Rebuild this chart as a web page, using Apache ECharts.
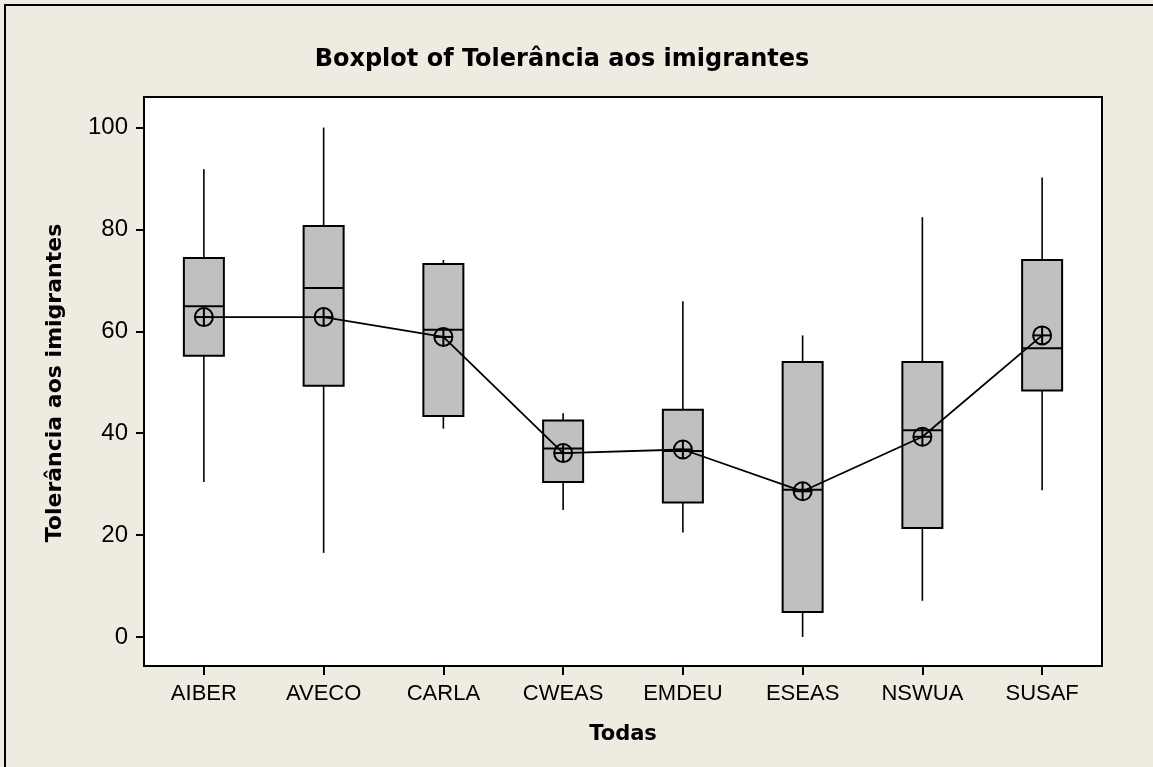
<!DOCTYPE html>
<html>
<head>
<meta charset="utf-8">
<title>Boxplot of Tolerância aos imigrantes</title>
<script src="https://cdn.jsdelivr.net/npm/echarts@6/dist/echarts.min.js"></script>
<style>
  html, body { margin: 0; padding: 0; background: #EFEBE1; }
  #chart { width: 1153px; height: 767px; }
</style>
</head>
<body>
<div id="chart"></div>
<script>
// Regions (x categories)
const categories = ['AIBER', 'AVECO', 'CARLA', 'CWEAS', 'EMDEU', 'ESEAS', 'NSWUA', 'SUSAF'];

// Five-number summaries per region
const whiskerLow  = [30.4, 16.5, 40.9, 24.9, 20.5,  0.0,  7.1, 28.8];
const q1          = [55.2, 49.3, 43.4, 30.4, 26.4,  4.9, 21.4, 48.4];
const median      = [64.9, 68.5, 60.3, 37.0, 36.5, 28.9, 40.6, 56.7];
const q3          = [74.4, 80.7, 73.2, 42.5, 44.6, 54.0, 54.0, 74.0];
const whiskerHigh = [91.8, 100.0, 74.0, 43.9, 65.9, 59.2, 82.4, 90.2];

// Group means (connected by a line)
const means = [62.8, 62.8, 58.9, 36.1, 36.8, 28.6, 39.3, 59.2];

// Y axis tick values
const yTicks = [0, 20, 40, 60, 80, 100];

const FONT = '"Liberation Sans", Arial, sans-serif';
const BOLD_FONT = '"DejaVu Sans", Verdana, sans-serif';
const BOX_RATIO = 0.334;

const boxData = categories.map((c, i) => [i, whiskerLow[i], q1[i], median[i], q3[i], whiskerHigh[i]]);
const meanData = categories.map((c, i) => [i, means[i]]);

// Box, median bar and uncapped whiskers for one category
function renderBox(params, api) {
  const i = api.value(0);
  const pLow = api.coord([i, api.value(1)]);
  const pQ1 = api.coord([i, api.value(2)]);
  const pMed = api.coord([i, api.value(3)]);
  const pQ3 = api.coord([i, api.value(4)]);
  const pHigh = api.coord([i, api.value(5)]);
  const half = api.size([1, 0])[0] * BOX_RATIO / 2;
  const cx = pMed[0];
  const whisker = { stroke: '#000', lineWidth: 1.6 };
  return {
    type: 'group',
    children: [
      { type: 'line', shape: { x1: cx, y1: pHigh[1], x2: cx, y2: pQ3[1] }, style: whisker },
      { type: 'line', shape: { x1: cx, y1: pQ1[1], x2: cx, y2: pLow[1] }, style: whisker },
      { type: 'rect', shape: { x: cx - half, y: pQ3[1], width: 2 * half, height: pQ1[1] - pQ3[1] },
        style: { fill: '#C0C0C0', stroke: '#000', lineWidth: 2 } },
      { type: 'line', shape: { x1: cx - half, y1: pMed[1], x2: cx + half, y2: pMed[1] },
        style: { stroke: '#000', lineWidth: 2 } }
    ]
  };
}

// Circled-plus marker for the mean
function renderMean(params, api) {
  const p = api.coord([api.value(0), api.value(1)]);
  const r = 9;
  const st = { stroke: '#000', lineWidth: 2, fill: 'none' };
  return {
    type: 'group',
    children: [
      { type: 'circle', shape: { cx: p[0], cy: p[1], r: r }, style: st },
      { type: 'line', shape: { x1: p[0] - r, y1: p[1], x2: p[0] + r, y2: p[1] }, style: st },
      { type: 'line', shape: { x1: p[0], y1: p[1] - r, x2: p[0], y2: p[1] + r }, style: st }
    ]
  };
}

const chart = echarts.init(document.getElementById('chart'), null, { renderer: 'canvas' });

chart.setOption({
  backgroundColor: '#EFEBE1',
  animation: false,
  grid: {
    left: 144, right: 51, top: 97, bottom: 101,
    show: true, backgroundColor: '#FFFFFF', borderColor: '#000', borderWidth: 2
  },
  xAxis: {
    type: 'category',
    data: categories,
    boundaryGap: true,
    axisLine: { show: true, onZero: false, lineStyle: { color: '#000', width: 2 } },
    axisTick: { show: true, alignWithLabel: true, length: 9, lineStyle: { color: '#000', width: 2 } },
    axisLabel: { color: '#000', fontFamily: FONT, fontSize: 22, margin: 17 },
    splitLine: { show: false }
  },
  yAxis: {
    type: 'value',
    min: -5.7,
    max: 106,
    axisLine: { show: true, onZero: false, lineStyle: { color: '#000', width: 2 } },
    axisTick: { show: true, length: 8, customValues: yTicks, lineStyle: { color: '#000', width: 2 } },
    axisLabel: { color: '#000', fontFamily: FONT, fontSize: 24, margin: 16, customValues: yTicks },
    splitLine: { show: false }
  },
  graphic: [
    { type: 'rect', shape: { x: 5, y: 5, width: 3000, height: 3000 },
      style: { fill: 'none', stroke: '#000', lineWidth: 2 }, silent: true, z: 100 },
    { type: 'text', x: 562, y: 60,
      style: { text: 'Boxplot of Tolerância aos imigrantes', font: 'bold 24px ' + BOLD_FONT,
               fill: '#000', textAlign: 'center', textVerticalAlign: 'middle' } },
    { type: 'text', x: 623, y: 735,
      style: { text: 'Todas', font: 'bold 21px ' + BOLD_FONT,
               fill: '#000', textAlign: 'center', textVerticalAlign: 'middle' } },
    { type: 'text', x: 55, y: 383, rotation: Math.PI / 2,
      style: { text: 'Tolerância aos imigrantes', font: 'bold 22px ' + BOLD_FONT,
               fill: '#000', textAlign: 'center', textVerticalAlign: 'middle' } }
  ],
  series: [
    {
      name: 'box', type: 'custom', renderItem: renderBox, data: boxData,
      encode: { x: 0, y: [1, 2, 3, 4, 5] }, z: 2, silent: true
    },
    {
      name: 'meanLine', type: 'line', data: meanData, symbol: 'none',
      lineStyle: { color: '#000', width: 1.8 }, z: 3, silent: true
    },
    {
      name: 'mean', type: 'custom', renderItem: renderMean, data: meanData,
      encode: { x: 0, y: 1 }, z: 4, silent: true
    }
  ]
});
</script>
</body>
</html>
